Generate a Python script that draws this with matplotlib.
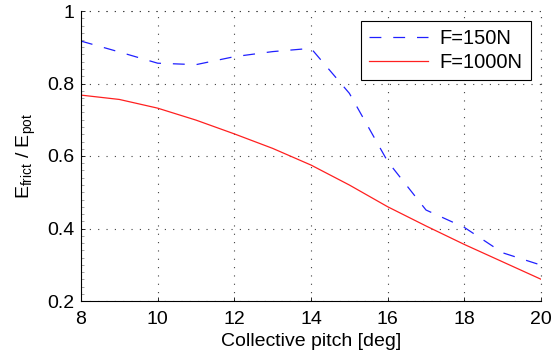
import numpy as np
import matplotlib.pyplot as plt
from matplotlib.ticker import MultipleLocator

plt.rcParams['font.family'] = ['Liberation Sans', 'DejaVu Sans']

# collective pitch [deg]
pitch = [8, 9, 10, 11, 12, 13, 14, 15, 16, 17, 18, 19, 20]
# E_frict / E_pot
e_150 = [0.917, 0.887, 0.856, 0.852, 0.874, 0.888, 0.897, 0.773, 0.585, 0.451, 0.403, 0.333, 0.299]
e_1000 = [0.768, 0.756, 0.732, 0.699, 0.661, 0.621, 0.575, 0.520, 0.460, 0.407, 0.356, 0.308, 0.260]

xticks = [8, 10, 12, 14, 16, 18, 20]
yticks = [0.2, 0.4, 0.6, 0.8, 1.0]
ytick_labels = ['0.2', '0.4', '0.6', '0.8', '1']

fig = plt.figure(figsize=(5.52, 3.58), dpi=100)
ax = fig.add_axes([81/552, 57/358, 460/552, 290/358])

ax.plot(pitch, e_150, color='#2020ff', lw=0.9, dashes=(9.5, 9.5), label='F=150N')
ax.plot(pitch, e_1000, color='#ff2020', lw=0.9, label='F=1000N')

ax.set_xlim(8, 20)
ax.set_ylim(0.2, 1.0)
ax.set_xticks(xticks)
ax.set_yticks(yticks)
ax.set_yticklabels(ytick_labels)
ax.yaxis.set_minor_locator(MultipleLocator(0.02))
ax.tick_params(direction='in', labelsize=14, length=3, width=0.6)
ax.tick_params(axis='x', pad=7)
ax.tick_params(axis='y', pad=5)
ax.tick_params(which='minor', direction='in', length=2, width=0.5, color='0.5')

for s in ['top', 'right']:
    ax.spines[s].set_visible(False)
for s in ['left', 'bottom']:
    ax.spines[s].set_linewidth(0.8)

ax.grid(True, color='0.25', lw=0.8, ls=(0, (1, 6.5)))
# grid lines at the upper and right edges too
ax.axhline(1.0, color='0.25', lw=0.8, ls=(0, (1, 6.5)), clip_on=False)
ax.axvline(20, color='0.25', lw=0.8, ls=(0, (1, 6.5)), clip_on=False)

ax.set_xlabel('Collective pitch [deg]', fontsize=14, labelpad=4)
ax.set_ylabel(r'E$_{\mathregular{frict}}$ / E$_{\mathregular{pot}}$', fontsize=14, labelpad=6)

leg = ax.legend(loc='upper right', bbox_to_anchor=(0.978, 0.966), borderaxespad=0,
                fontsize=14.5, fancybox=False, framealpha=1, edgecolor='black',
                handlelength=2.9, handletextpad=0.6, borderpad=0.4, labelspacing=0.25)
leg.get_frame().set_linewidth(0.8)

fig.savefig('out.png', dpi=100)
